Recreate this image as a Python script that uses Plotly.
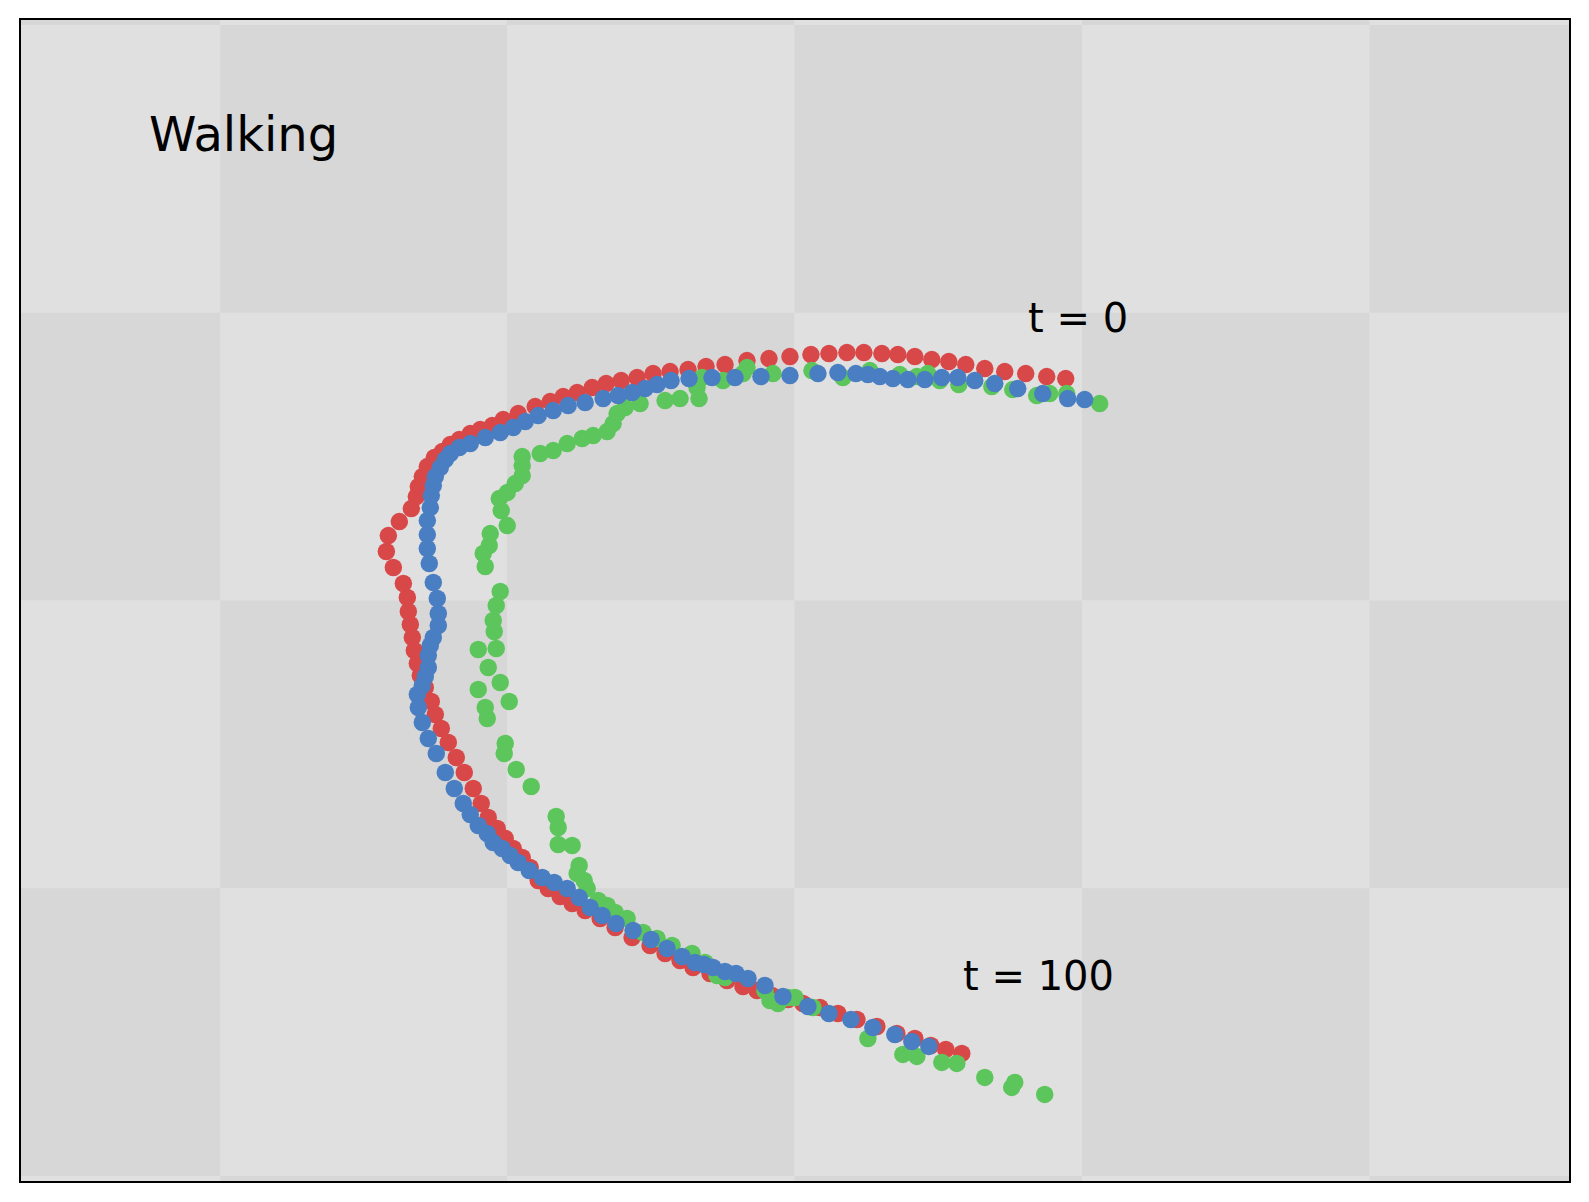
import plotly.graph_objects as go

# Floor coordinates (top view), y grows downward
red_x = [1066,1047,1026,1005,985,966,949,932,915,898,882,864,847,829,811,790,769,747,725,706,688,670,653,637,621,606,
         592,577,563,550,535,518,503,492,480,470,459,450,442,434,427,422,418,416,411,399,388,386,393,403,407,
         408,410,412,414,417,420,425,431,435,441,448,456,464,473,481,488,497,505,513,522,530,
         538,548,560,572,585,600,615,632,650,665,680,693,710,727,743,757,772,
         788,803,820,838,857,877,897,915,931,946,962]
red_y = [378,376,373,371,368,364,361,359,356,354,353,352,352,353,354,356,358,360,364,366,369,371,373,377,380,383,
         387,392,396,401,406,413,419,425,429,433,439,444,451,457,466,476,486,496,508,521,535,551,567,583,597,
         611,624,637,650,663,675,687,701,714,728,742,757,772,788,803,817,828,838,848,857,867,
         880,888,896,903,910,918,927,937,945,953,960,967,973,980,986,990,995,
         999,1003,1007,1013,1019,1026,1033,1038,1045,1049,1053]

blue_x = [1085,1068,1043,1018,995,975,958,942,925,908,893,880,868,856,838,818,790,761,735,712,689,671,657,645,632,618,603,
          585,568,553,538,525,513,500,485,470,459,450,445,440,435,433,431,430,427,427,427,429,433,437,438,438,433,430,428,428,
          425,422,417,418,422,428,436,445,454,463,470,478,487,493,502,510,518,529,542,554,567,579,590,602,616,633,651,667,682,
          695,704,713,725,736,748,765,783,808,829,851,873,895,912,929]
blue_y = [399,398,393,388,383,380,377,377,379,379,378,376,374,373,372,373,375,376,377,377,378,380,384,388,392,395,398,
          402,405,410,415,421,427,432,437,443,447,453,459,467,476,485,495,507,520,534,548,563,582,598,613,625,637,645,655,667,
          676,685,694,707,722,738,753,772,788,803,814,825,833,842,848,855,862,870,877,882,888,897,907,915,923,930,939,948,956,
          962,964,967,971,973,978,985,996,1006,1013,1019,1027,1034,1041,1046]

green_x = [1100,1067,1050,1037,1013,992,959,940,928,917,900,870,843,812,773,747,743,723,702,697,699,680,665,640,625,617,613,607,
           593,582,567,553,540,522,522,522,515,507,499,501,507,490,489,483,485,500,496,493,494,478,496,488,500,478,509,485,487,
           505,504,516,531,556,558,558,572,579,577,584,587,598,607,615,627,643,657,672,692,705,717,725,765,770,778,788,795,813,
           868,903,917,942,957,985,1012,1015,1045]
green_y = [403,393,393,395,389,386,384,380,373,376,374,370,377,370,373,367,373,380,377,387,398,398,400,403,407,413,423,431,
           435,438,443,450,453,456,465,475,483,492,498,510,525,533,545,553,566,591,605,620,631,649,648,667,682,689,701,707,718,
           743,753,769,786,816,827,844,845,865,873,880,888,900,905,912,918,932,938,945,953,962,975,977,990,1000,1003,997,997,1007,
           1038,1054,1056,1062,1063,1077,1087,1082,1094]

# Checkerboard floor grid lines (floor coordinates)
grid_x = [-67.7, 219.9, 506.7, 794.5, 1082.3, 1370.1, 1657.7]
grid_y = [-263.3, 24.3, 312.1, 599.9, 887.7, 1175.5, 1463.3]

labels = [("Walking", 146, 133, 48, "left"), ("t = 0", 1078, 317, 40, "center"), ("t = 100", 1039, 976, 40, "center")]

LIGHT = "#e0e0e0"
DARK = "#d7d7d7"

fig = go.Figure()

shapes = []
for i in range(len(grid_x) - 1):
    for j in range(len(grid_y) - 1):
        dark = (i + j) % 2 == 0
        shapes.append(dict(type="rect", xref="x", yref="y",
                           x0=grid_x[i], x1=grid_x[i + 1], y0=grid_y[j], y1=grid_y[j + 1],
                           fillcolor=DARK if dark else LIGHT, line=dict(width=0), layer="below"))

for xs, ys, col in [(red_x, red_y, "#d94848"), (green_x, green_y, "#5cc65c"), (blue_x, blue_y, "#4a7ec2")]:
    fig.add_trace(go.Scatter(x=xs, y=ys, mode="markers",
                             marker=dict(size=17.5, color=col, line=dict(width=0)),
                             hoverinfo="skip", showlegend=False))

annotations = []
for text, x, y, size, anchor in labels:
    annotations.append(dict(text=text, x=x, y=y, xref="x", yref="y", showarrow=False,
                            xanchor=anchor, yanchor="middle",
                            font=dict(family="DejaVu Sans", size=size, color="black")))

fig.update_layout(
    width=1573, height=1186,
    margin=dict(l=13, r=10, t=11, b=13),
    paper_bgcolor="white", plot_bgcolor=LIGHT,
    shapes=shapes, annotations=annotations,
    xaxis=dict(range=[20.3, 1569.8], showgrid=False, zeroline=False, showticklabels=False, ticks="",
               showline=True, linecolor="black", linewidth=2, mirror=True),
    yaxis=dict(range=[1180.6, 19.3], showgrid=False, zeroline=False, showticklabels=False, ticks="",
               showline=True, linecolor="black", linewidth=2, mirror=True),
)

fig.write_html("out.html")
